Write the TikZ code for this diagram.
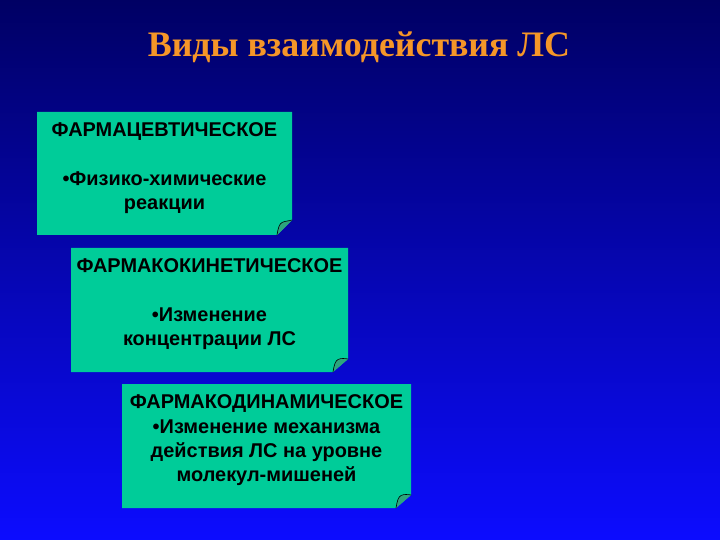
\documentclass[tikz,border=0pt]{standalone}
\usepackage{fontspec}
\setmainfont{Liberation Serif}
\newfontfamily\arialfont{Liberation Sans}
\definecolor{bgtop}{RGB}{0,0,100}
\definecolor{bgbottom}{RGB}{12,12,255}
\definecolor{titleorange}{RGB}{245,150,40}
\definecolor{noteteal}{RGB}{0,204,153}
\definecolor{foldteal}{RGB}{45,165,125}

\tikzset{
    note/.style={fill=noteteal},
    foldfill/.style={fill=foldteal},
    foldline/.style={draw=black, line width=0.6bp, line cap=round},
    notetext/.style={font=\arialfont\bfseries\fontsize{20}{24.5}\selectfont,
        align=center, anchor=north, inner sep=0pt, text=black},
}

\begin{document}
\begin{tikzpicture}[x=1bp,y=-1bp]
        \useasboundingbox (0,0) rectangle (720,540);
        \shade[top color=bgtop, bottom color=bgbottom] (0,0) rectangle (720,540);

        \node[font=\bfseries\fontsize{36}{42}\selectfont, text=titleorange, anchor=base]
            (title) at (359,57) {Виды взаимодействия ЛС};

        % notes with folded corner
        \fill[note]
            (37,112) -- (292,112) -- (292,220) -- (277,235) -- (37,235) -- cycle
            (71,248) -- (348,248) -- (348,359) -- (333,372) -- (71,372) -- cycle
            (122,384) -- (411,384) -- (411,495) -- (396,508) -- (122,508) -- cycle
            ;
        \fill[foldfill]
            (277,235) .. controls (278,229) and (279,224) .. (282,222.5)
            .. controls (285,221) and (289,221) .. (292,220) -- cycle
            (333,372) .. controls (334,366) and (335,361) .. (338,359.5)
            .. controls (341,358) and (345,358.5) .. (348,359) -- cycle
            (396,508) .. controls (397,502) and (398,497) .. (401,495.5)
            .. controls (404,494) and (408,494.5) .. (411,495) -- cycle
            ;
        \draw[foldline]
            (277,235) .. controls (278,229) and (279,224) .. (282,222.5)
            .. controls (285,221) and (289,221) .. (292,220)
            (333,372) .. controls (334,366) and (335,361) .. (338,359.5)
            .. controls (341,358) and (345,358.5) .. (348,359)
            (396,508) .. controls (397,502) and (398,497) .. (401,495.5)
            .. controls (404,494) and (408,494.5) .. (411,495)
            ;

        \node[notetext] (pharmaceutical) at (164.5,122.5)
            {ФАРМАЦЕВТИЧЕСКОЕ\\[24.5bp] •Физико-химические\\ реакции};
        \node[notetext] (kinetic) at (209.5,258.5)
            {ФАРМАКОКИНЕТИЧЕСКОЕ\\[24.5bp] •Изменение\\ концентрации ЛС};
        \node[notetext] (dynamic) at (266.5,394.5)
            {ФАРМАКОДИНАМИЧЕСКОЕ\\ •Изменение механизма\\ действия ЛС на уровне\\ молекул-мишеней};
\end{tikzpicture}
\end{document}
